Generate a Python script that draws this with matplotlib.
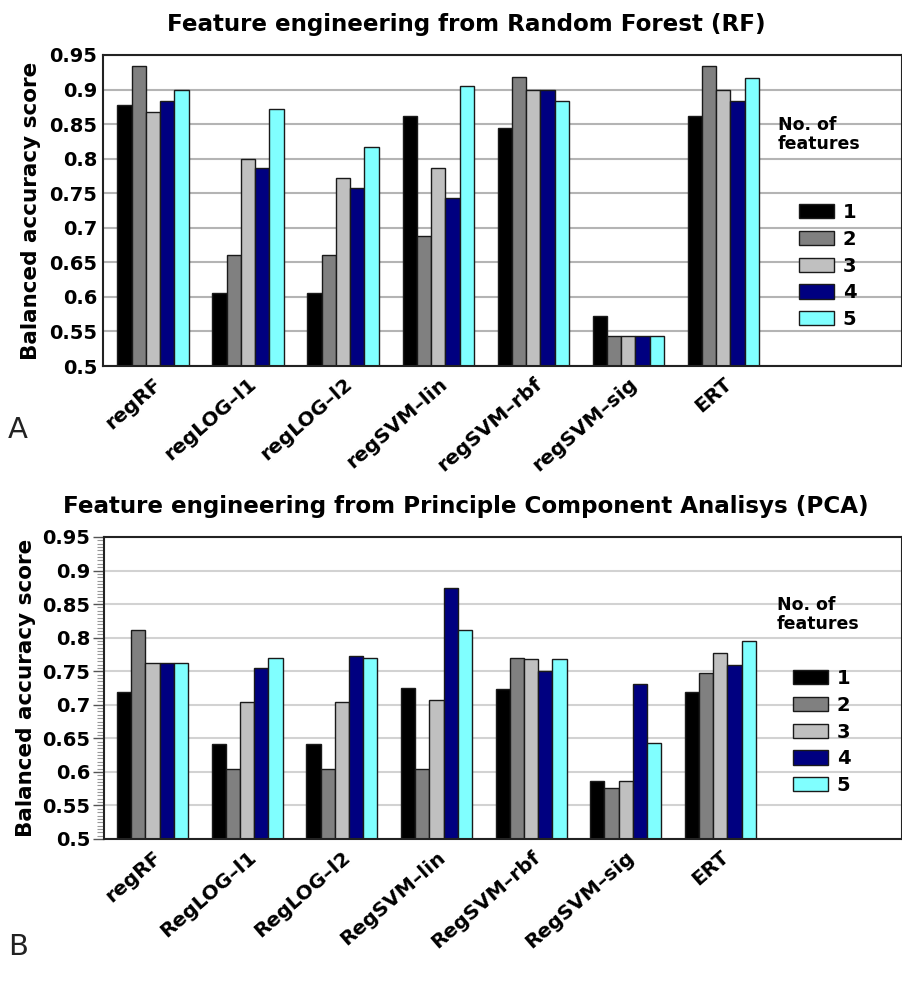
import matplotlib
matplotlib.use("Agg")
import matplotlib.pyplot as plt
import numpy as np
from matplotlib.patches import Patch

plt.rcParams["font.family"] = ["DejaVu Sans"]

# ---- data ----
models_rf = ["regRF", "regLOG–l1", "regLOG–l2", "regSVM–lin", "regSVM–rbf", "regSVM–sig", "ERT"]
models_pca = ["regRF", "RegLOG–l1", "RegLOG–l2", "RegSVM–lin", "RegSVM–rbf", "RegSVM–sig", "ERT"]
n_features = ["1", "2", "3", "4", "5"]

rf_f1 = [0.877, 0.605, 0.605, 0.862, 0.845, 0.572, 0.862]
rf_f2 = [0.934, 0.660, 0.660, 0.688, 0.918, 0.544, 0.934]
rf_f3 = [0.868, 0.800, 0.772, 0.786, 0.900, 0.544, 0.900]
rf_f4 = [0.884, 0.786, 0.758, 0.743, 0.900, 0.544, 0.884]
rf_f5 = [0.900, 0.872, 0.817, 0.905, 0.884, 0.544, 0.917]

pca_f1 = [0.719, 0.642, 0.642, 0.725, 0.724, 0.586, 0.719]
pca_f2 = [0.812, 0.604, 0.604, 0.604, 0.769, 0.576, 0.748]
pca_f3 = [0.762, 0.704, 0.704, 0.707, 0.768, 0.586, 0.777]
pca_f4 = [0.762, 0.755, 0.772, 0.874, 0.751, 0.731, 0.760]
pca_f5 = [0.762, 0.770, 0.770, 0.812, 0.768, 0.643, 0.795]

colors = ["#000000", "#808080", "#c0c0c0", "#000080", "#80ffff"]
edge = "#1a1a1a"


def draw_panel(fig, rect, models, series, title, title_y, grid_color, outer_ticks,
               legend_xy, legtitle_xy, ylabel_x, xlim):
    ax = fig.add_axes(rect)
    x = np.arange(len(models))
    w = 0.15
    for i, vals in enumerate(series):
        ax.bar(x + (i - 2) * w, np.array(vals) - 0.5, bottom=0.5, width=w,
               color=colors[i], edgecolor=edge, linewidth=1.0, zorder=2)
    ax.set_ylim(0.5, 0.95)
    ax.set_xlim(*xlim)
    yt = np.arange(0.5, 0.951, 0.05)
    ax.set_yticks(yt)
    ax.set_yticklabels([f"{v:g}" for v in yt], fontsize=14, fontweight="bold")
    ax.grid(True, axis="y", color=grid_color, lw=1.5, zorder=0)
    ax.set_axisbelow(True)
    ax.set_xticks(x)
    ax.set_xticklabels(models, rotation=41, ha="right", va="top", rotation_mode="anchor",
                       fontsize=14.5, fontweight="bold")
    ax.tick_params(axis="x", length=0, pad=6)
    if outer_ticks:
        ax.set_yticks(np.arange(0.5, 0.951, 0.005), minor=True)
        ax.tick_params(axis="y", which="major", length=8, width=1, color="#555555", pad=2)
        ax.tick_params(axis="y", which="minor", length=5, width=0.8, color="#999999")
    else:
        ax.tick_params(axis="y", length=0, pad=4)
    for s in ax.spines.values():
        s.set_color("#222222")
        s.set_linewidth(1.5)
    ax.set_ylabel("Balanced accuracy score", fontsize=15.5, fontweight="bold")
    ax.yaxis.set_label_coords(ylabel_x, 0.5)
    fig.text(466 / 902, title_y, title, ha="center", va="center",
             fontsize=16.6, fontweight="bold")
    fig.text(legtitle_xy[0], legtitle_xy[1], "No. of\nfeatures", ha="left", va="top",
             fontsize=12.5, fontweight="bold", linespacing=1.1)
    handles = [Patch(facecolor=c, edgecolor=edge, lw=1.0) for c in colors]
    fig.legend(handles, n_features, loc="upper left", bbox_to_anchor=legend_xy,
               frameon=False, borderpad=0, borderaxespad=0, handlelength=1.8,
               handleheight=0.75, handletextpad=0.45, labelspacing=0.4,
               prop={"size": 14, "weight": "bold"})
    return ax


fig = plt.figure(figsize=(9.02, 9.81), dpi=100)

draw_panel(fig, [103 / 902, 1 - 366 / 981, 799 / 902, 311 / 981], models_rf,
           [rf_f1, rf_f2, rf_f3, rf_f4, rf_f5],
           "Feature engineering from Random Forest (RF)", 1 - 25 / 981,
           "#b4b4b4", False, (799 / 902, 1 - 203 / 981), (778 / 902, 1 - 116 / 981),
           -0.078, (-0.526, 7.88))

draw_panel(fig, [104 / 902, 1 - 839 / 981, 798 / 902, 302 / 981], models_pca,
           [pca_f1, pca_f2, pca_f3, pca_f4, pca_f5],
           "Feature engineering from Principle Component Analisys (PCA)", 1 - 507 / 981,
           "#d2d2d2", True, (793 / 902, 1 - 669 / 981), (777 / 902, 1 - 596 / 981),
           -0.085, (-0.513, 7.92))

fig.text(8 / 902, 1 - 430 / 981, "A", fontsize=21, color="#222222", va="center", ha="left")
fig.text(8 / 902, 1 - 947 / 981, "B", fontsize=21, color="#222222", va="center", ha="left")

fig.savefig("out.png", dpi=100)
